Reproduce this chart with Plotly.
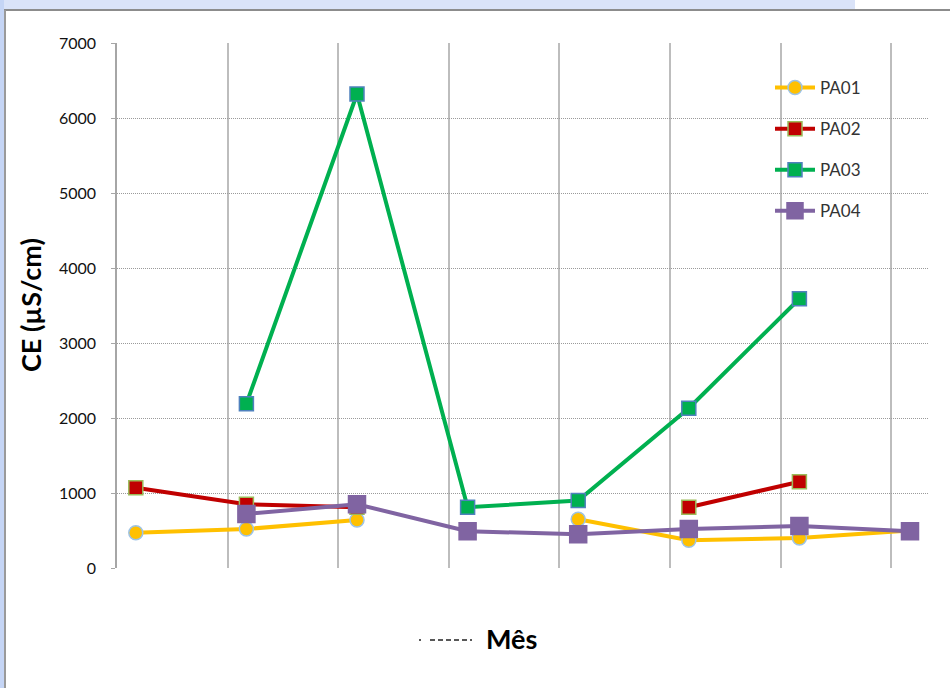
import plotly.graph_objects as go

# Electrical conductivity (CE, µS/cm) per monthly campaign at four sampling points
campaigns = [1, 2, 3, 4, 5, 6, 7, 8]
pa01 = [470, 520, 640, None, 650, 370, 400, 500]
pa02 = [1070, 850, 810, None, None, 810, 1150, None]
pa03 = [None, 2190, 6320, 810, 900, 2130, 3590, None]
pa04 = [None, 720, 850, 490, 450, 520, 560, 490]

y_ticks = [0, 1000, 2000, 3000, 4000, 5000, 6000, 7000]

W, H = 950, 688
L, R, T, B = 117, 21, 43, 120
PW, PH = W - L - R, H - T - B


def px(x):
    return (x - L) / PW


def py(y):
    return (H - B - y) / PH


# markers sit a little to the right of each vertical gridline
x_pos = [c - 1 + 0.17 for c in campaigns]

series = [
    ("PA01", pa01, "#FFC000", "circle", 14, "#9DC3E6"),
    ("PA02", pa02, "#C00000", "square", 14, "#9BBB59"),
    ("PA03", pa03, "#00B050", "square", 14, "#4F81BD"),
    ("PA04", pa04, "#8064A2", "square", 17, "#8064A2"),
]

fig = go.Figure()
for name, vals, color, sym, size, edge in series:
    fig.add_trace(go.Scatter(
        x=x_pos, y=vals, name=name, mode="lines+markers",
        legendgroup=name,
        line=dict(color=color, width=4),
        marker=dict(symbol=sym, size=size, color=color,
                    line=dict(color=edge, width=1.5)),
        connectgaps=False,
    ))

shapes = [
    # light blue band above and at the left of the white panel
    dict(type="rect", xref="paper", yref="paper", x0=px(0), x1=px(855), y0=py(0), y1=py(10),
         fillcolor="#DAE3F8", line_width=0, layer="below"),
    dict(type="rect", xref="paper", yref="paper", x0=px(0), x1=px(4), y0=py(0), y1=py(688),
         fillcolor="#C5D5F5", line_width=0, layer="below"),
    dict(type="line", xref="paper", yref="paper", x0=px(4), x1=px(950), y0=py(10), y1=py(10),
         line=dict(color="#8C8C8C", width=2)),
    dict(type="line", xref="paper", yref="paper", x0=px(5), x1=px(5), y0=py(10), y1=py(688),
         line=dict(color="#9A9A9A", width=2)),
    # short dashed stroke before the axis title
    dict(type="line", xref="paper", yref="paper", x0=px(430), x1=px(472), y0=py(640), y1=py(640),
         line=dict(color="#222222", width=1.5, dash="5px,3px")),
    dict(type="line", xref="paper", yref="paper", x0=px(419), x1=px(421), y0=py(640), y1=py(640),
         line=dict(color="#222222", width=1.5)),
]

annotations = [
    dict(text="<b>CE (µS/cm)</b>", x=px(30), y=py(305), xref="paper", yref="paper",
         xanchor="center", yanchor="middle",
         textangle=-90, showarrow=False, font=dict(family="Lato", size=27, color="#000000")),
    dict(text="<b>Mês</b>", x=px(511), y=py(638), xref="paper", yref="paper",
         xanchor="center", yanchor="middle",
         showarrow=False, font=dict(family="Lato", size=27, color="#000000")),
]

fig.update_layout(
    width=W, height=H,
    margin=dict(l=L, r=R, t=T, b=B, pad=0),
    paper_bgcolor="white", plot_bgcolor="white",
    font=dict(family="Lato", color="#000000"),
    shapes=shapes, annotations=annotations,
    showlegend=True,
    legend=dict(x=px(770), y=py(70), xanchor="left", yanchor="top",
                bgcolor="rgba(0,0,0,0)", font=dict(size=17, color="#333333"),
                tracegroupgap=16, itemwidth=40),
    xaxis=dict(range=[0, (929 - L) / 110.6], dtick=1, tick0=0,
               showgrid=True, gridcolor="#BDBDBD", gridwidth=2,
               showticklabels=False, zeroline=False, showline=False, ticks=""),
    yaxis=dict(range=[0, 7000], tickvals=y_ticks, showgrid=True,
               gridcolor="#9A9A9A", gridwidth=1, griddash="1px,1px",
               zeroline=False, showline=True, linecolor="#A6A6A6", linewidth=1.5,
               ticks="outside", ticklen=4, tickcolor="#A6A6A6",
               ticklabelstandoff=12, tickfont=dict(size=16, color="#111111")),
)

fig.write_html("out.html")
